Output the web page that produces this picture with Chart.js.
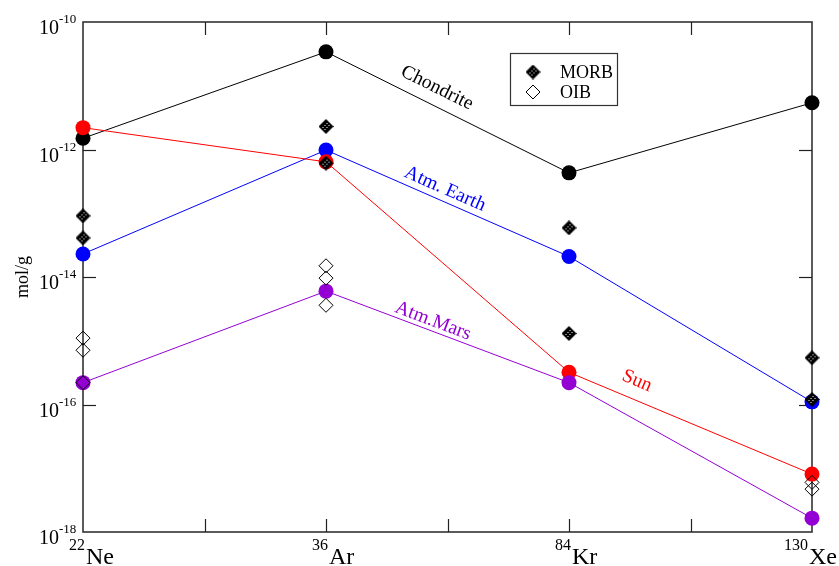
<!DOCTYPE html>
<html><head><meta charset="utf-8">
<script src="https://cdn.jsdelivr.net/npm/chart.js@4.4.0/dist/chart.umd.min.js"></script>
<style>html,body{margin:0;padding:0;background:#fff}#wrap{width:839px;height:566px;position:relative}</style>
</head><body><div id="wrap"><canvas id="c"></canvas></div>
<script>
// ---- data ----
const elements = ['Ne', 'Ar', 'Kr', 'Xe'];
const isotopes = ['22', '36', '84', '130'];
const yTickExponents = ['-10', '-12', '-14', '-16', '-18'];
const seriesNames = ['Chondrite', 'Atm. Earth', 'Sun', 'Atm.Mars'];
const chondrite = [1.5e-12, 3.4e-11, 4.3e-13, 5.4e-12];
const atmEarth  = [2.3e-14, 9.8e-13, 2.1e-14, 1.1e-16];
const sun       = [2.2e-12, 6.4e-13, 3.2e-16, 8.1e-18];
const atmMars   = [2.2e-16, 6.0e-15, 2.2e-16, 1.65e-18];
const morbIdx = [0, 0, 1, 1, 2, 2, 3, 3];
const morbVal = [9.1e-14, 4.1e-14, 2.3e-12, 6.1e-13, 5.9e-14, 1.3e-15, 5.4e-16, 1.2e-16];
const oibIdx  = [0, 0, 0, 1, 1, 1, 3, 3];
const oibVal  = [1.1e-15, 7.1e-16, 2.2e-16, 1.5e-14, 9.6e-15, 3.6e-15, 6.0e-18, 4.7e-18];

const FONT = '"Liberation Serif", "Times New Roman", serif';

function makeMorb() {
  const s = 15, c = document.createElement('canvas');
  c.width = s; c.height = s;
  const g = c.getContext('2d');
  const h = s / 2;
  g.beginPath(); g.moveTo(h, 0); g.lineTo(s, h); g.lineTo(h, s); g.lineTo(0, h); g.closePath();
  g.fillStyle = '#000'; g.fill();
  g.fillStyle = '#fff';
  for (let y = 2; y < s; y += 2) for (let x = 2; x < s; x += 2) {
    if ((x + y) % 4 === 0 && Math.abs(x + 0.5 - h) + Math.abs(y + 0.5 - h) < h - 2.5) g.fillRect(x, y, 1, 1);
  }
  return c;
}
const morbImg = makeMorb();

const toPts = (arr) => arr.map((v, i) => ({ x: i, y: v }));
const lineDs = (label, data, color, order) => ({
  label, data: toPts(data), borderColor: color, backgroundColor: color,
  borderWidth: 1, pointRadius: 7.5, pointHoverRadius: 7.5, pointBorderWidth: 0,
  showLine: true, clip: false, order
});

const overlay = {
  id: 'overlay',
  beforeDatasetsDraw(chart) {
    const { ctx, chartArea: a, scales: { x, y } } = chart;
    ctx.save();
    ctx.strokeStyle = '#333'; ctx.lineWidth = 1.6;
    ctx.strokeRect(a.left, a.top, a.right - a.left, a.bottom - a.top);
    ctx.lineWidth = 1.2; ctx.strokeStyle = '#222';
    const TL = 13;
    [0.5, 1, 1.5, 2, 2.5].forEach(v => {
      const px = Math.round(x.getPixelForValue(v)) + 0.5;
      ctx.beginPath(); ctx.moveTo(px, a.bottom); ctx.lineTo(px, a.bottom - TL); ctx.stroke();
      ctx.beginPath(); ctx.moveTo(px, a.top); ctx.lineTo(px, a.top + TL); ctx.stroke();
    });
    [1e-12, 1e-14, 1e-16].forEach(v => {
      const py = Math.round(y.getPixelForValue(v)) + 0.5;
      ctx.beginPath(); ctx.moveTo(a.left, py); ctx.lineTo(a.left + TL, py); ctx.stroke();
      ctx.beginPath(); ctx.moveTo(a.right, py); ctx.lineTo(a.right - TL, py); ctx.stroke();
    });
    ctx.restore();
  },
  afterDatasetsDraw(chart) {
    const { ctx, chartArea: a, scales: { x, y } } = chart;
    ctx.save();
    ctx.fillStyle = '#000';
    // y tick labels
    yTickExponents.forEach(e => {
      const py = y.getPixelForValue(Math.pow(10, Number(e)));
      ctx.font = '20px ' + FONT; ctx.textAlign = 'right'; ctx.textBaseline = 'alphabetic';
      ctx.fillText('10', 59, py + 12);
      ctx.font = '13px ' + FONT; ctx.textAlign = 'left';
      ctx.fillText(e, 59, py + 1);
    });
    // x labels
    elements.forEach((el, i) => {
      const px = x.getPixelForValue(i);
      ctx.font = '24px ' + FONT; ctx.textAlign = 'left';
      const w = ctx.measureText(el).width;
      const lx = Math.min(px + 3, chart.width - 2 - w);
      ctx.fillText(el, lx, 564);
      ctx.font = '16px ' + FONT; ctx.textAlign = 'right';
      ctx.fillText(isotopes[i], lx - 1, 550);
    });
    // y title
    ctx.save();
    ctx.translate(23, (a.top + a.bottom) / 2);
    ctx.rotate(-Math.PI / 2);
    ctx.font = '18px ' + FONT; ctx.textAlign = 'center'; ctx.textBaseline = 'middle';
    ctx.fillText('mol/g', 0, 0);
    ctx.restore();
    // series annotations
    const ann = [
      { ds: chondrite, name: seriesNames[0], color: '#000', seg: 1, cx: 437, cy: 88 },
      { ds: atmEarth, name: seriesNames[1], color: '#0000ff', seg: 1, cx: 445, cy: 189 },
      { ds: sun, name: seriesNames[2], color: '#ff0000', seg: 2, cx: 637, cy: 381 },
      { ds: atmMars, name: seriesNames[3], color: '#9400d3', seg: 1, cx: 433, cy: 321 }
    ];
    ann.forEach(o => {
      const x0 = x.getPixelForValue(o.seg), x1 = x.getPixelForValue(o.seg + 1);
      const y0 = y.getPixelForValue(o.ds[o.seg]), y1 = y.getPixelForValue(o.ds[o.seg + 1]);
      const ang = Math.atan2(y1 - y0, x1 - x0);
      ctx.save();
      ctx.translate(o.cx, o.cy); ctx.rotate(ang);
      ctx.fillStyle = o.color; ctx.font = '19.5px ' + FONT;
      ctx.textAlign = 'center'; ctx.textBaseline = 'middle';
      ctx.fillText(o.name, 0, 0);
      ctx.restore();
    });
    // legend
    ctx.strokeStyle = '#333'; ctx.lineWidth = 1.2;
    ctx.strokeRect(510.5, 53.5, 107, 52);
    ctx.drawImage(morbImg, 533 - 7.5, 72 - 7.5);
    ctx.beginPath();
    ctx.moveTo(533, 85); ctx.lineTo(540, 92); ctx.lineTo(533, 99); ctx.lineTo(526, 92); ctx.closePath();
    ctx.lineWidth = 1; ctx.strokeStyle = '#000'; ctx.stroke();
    ctx.fillStyle = '#000'; ctx.font = '18px ' + FONT; ctx.textAlign = 'left'; ctx.textBaseline = 'alphabetic';
    ctx.fillText('MORB', 560, 78);
    ctx.fillText('OIB', 560, 98);
    ctx.restore();
  }
};

new Chart(document.getElementById('c'), {
  type: 'scatter',
  data: {
    datasets: [
      { label: 'OIB', data: oibVal.map((v, i) => ({ x: oibIdx[i], y: v })), pointStyle: 'rectRot',
        pointRadius: 7, pointHoverRadius: 7, borderColor: '#000', backgroundColor: 'rgba(0,0,0,0)',
        pointBorderWidth: 1, clip: false, order: 0 },
      { label: 'MORB', data: morbVal.map((v, i) => ({ x: morbIdx[i], y: v })), pointStyle: morbImg,
        clip: false, order: 1 },
      lineDs(seriesNames[3], atmMars, '#9400d3', 2),
      lineDs(seriesNames[2], sun, '#ff0000', 3),
      lineDs(seriesNames[1], atmEarth, '#0000ff', 4),
      lineDs(seriesNames[0], chondrite, '#000000', 5)
    ]
  },
  options: {
    responsive: true, maintainAspectRatio: false, animation: false,
    layout: { padding: { left: 83, top: 22, right: 27, bottom: 34 } },
    plugins: { legend: { display: false }, tooltip: { enabled: false } },
    scales: {
      x: { type: 'linear', min: 0, max: 3, display: false },
      y: { type: 'logarithmic', min: 1e-18, max: 1e-10, display: false }
    }
  },
  plugins: [overlay]
});
</script>
</body></html>
